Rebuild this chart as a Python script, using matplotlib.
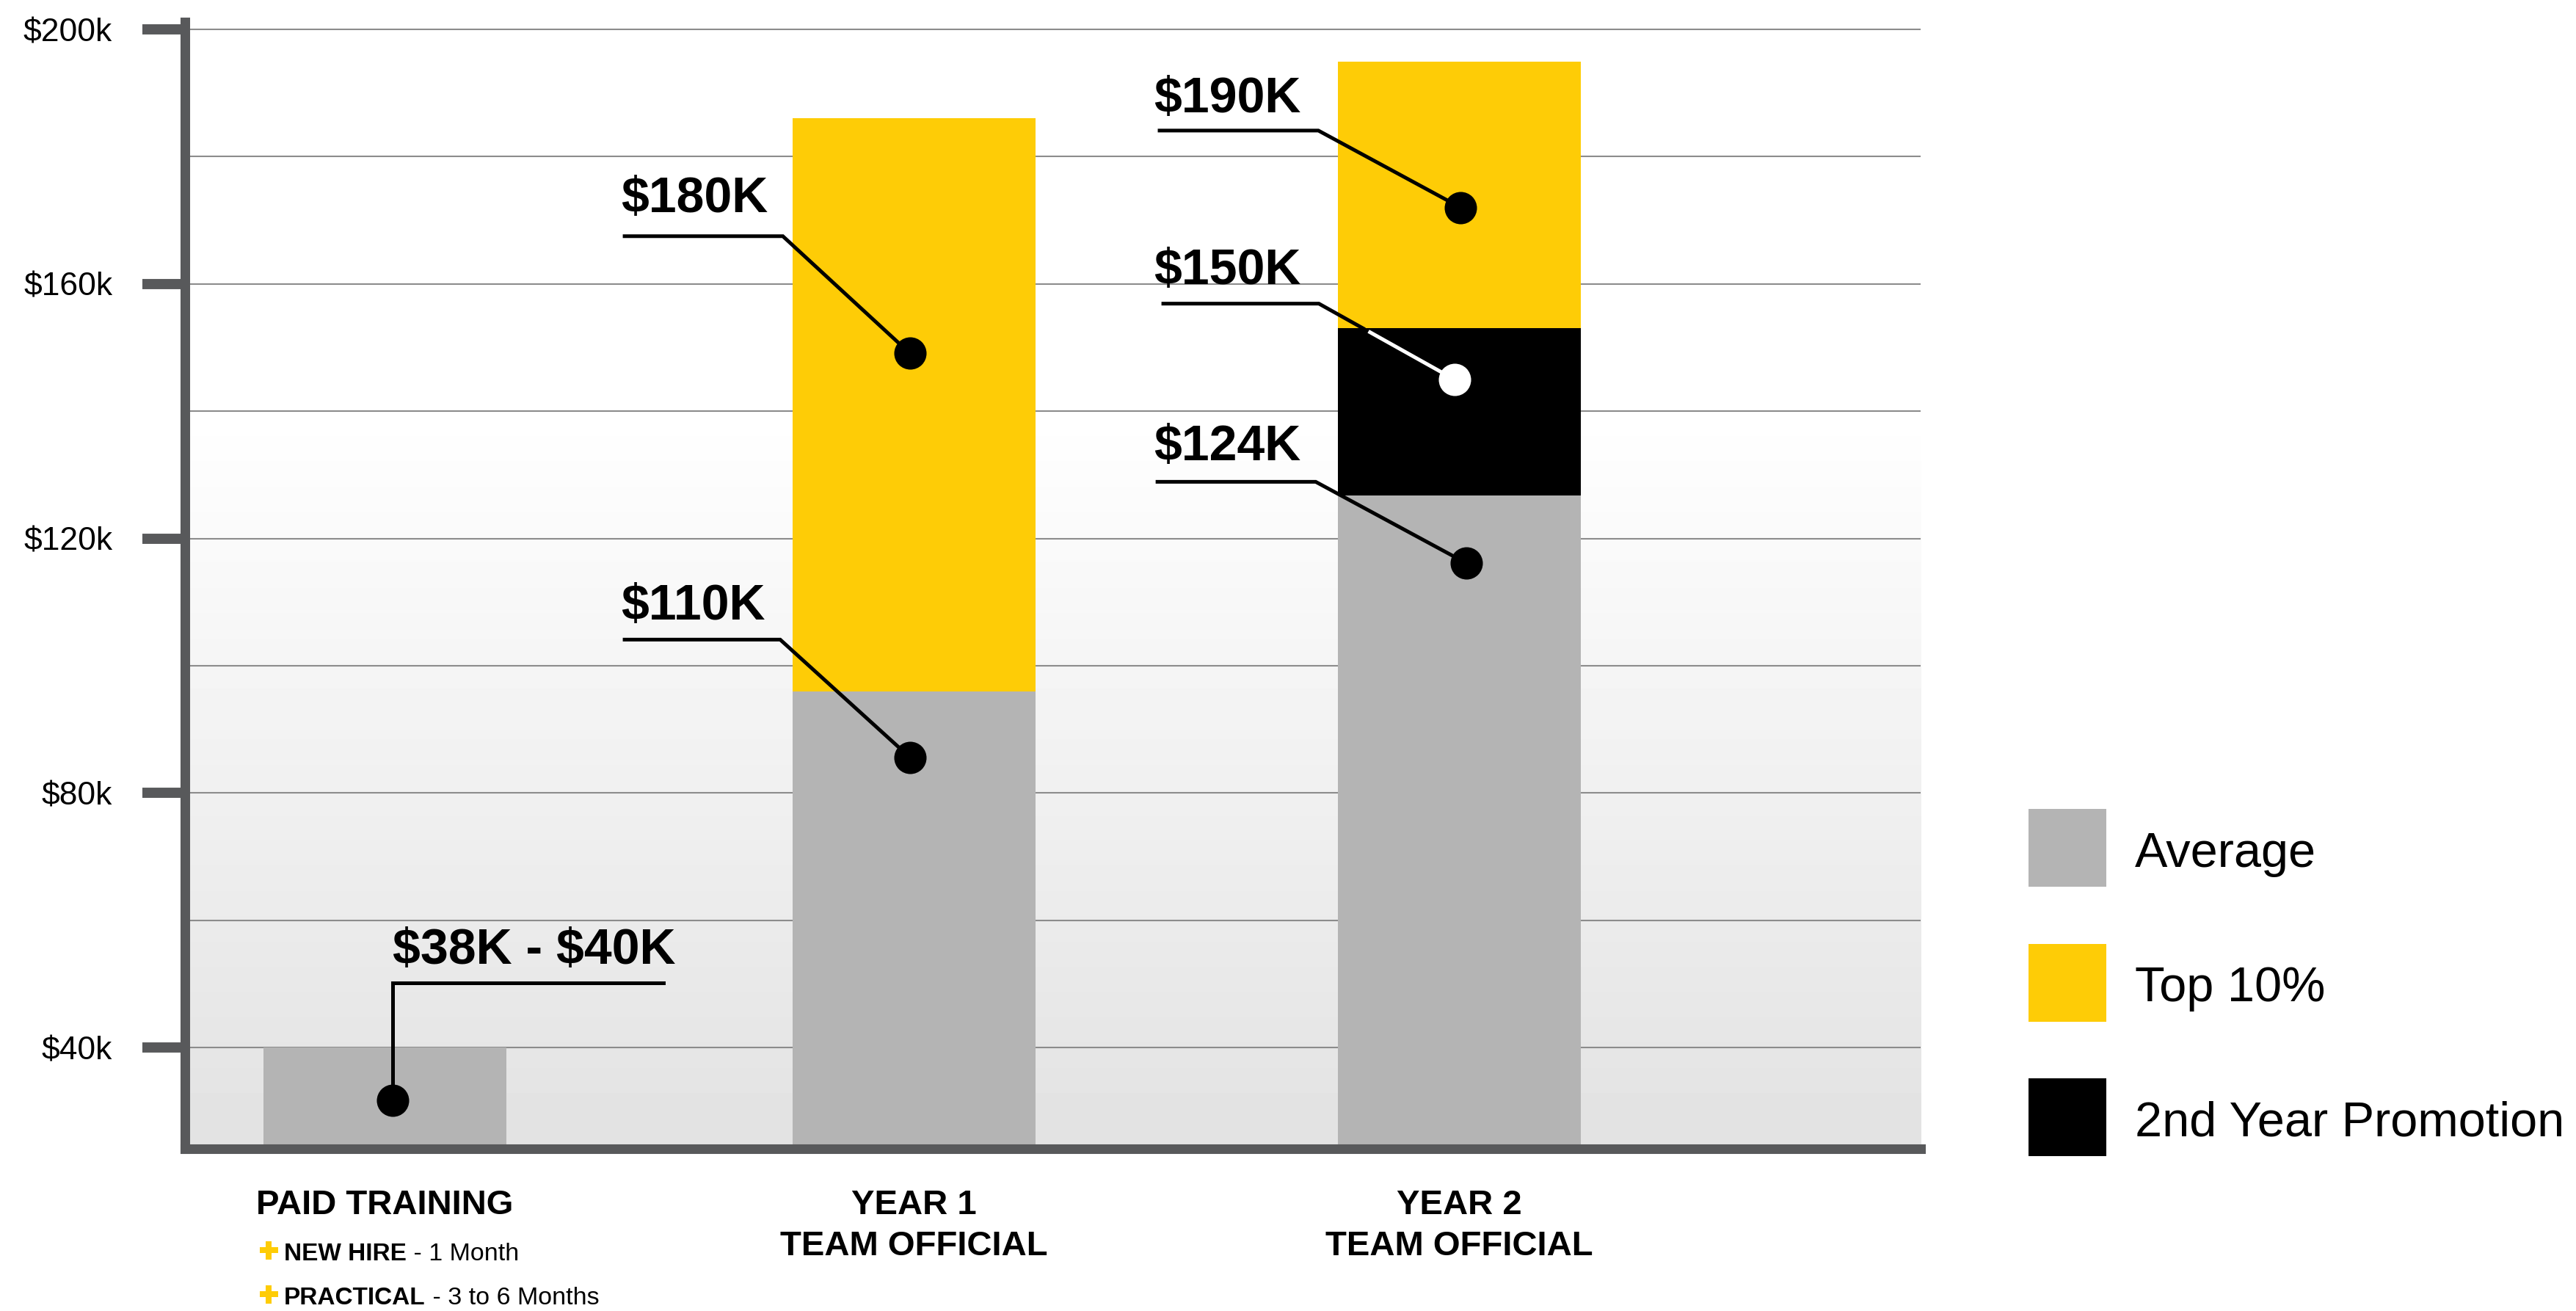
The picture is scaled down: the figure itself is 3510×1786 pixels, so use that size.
import numpy as np
import matplotlib
matplotlib.use('Agg')
import matplotlib.pyplot as plt
from matplotlib import font_manager
from matplotlib.lines import Line2D
from matplotlib.patches import Rectangle
from matplotlib.transforms import blended_transform_factory

# bar data (in $k)
categories = ['PAID TRAINING', 'YEAR 1\nTEAM OFFICIAL', 'YEAR 2\nTEAM OFFICIAL']
x_pos = [0, 1, 2.03]
average = [40, 96, 126.8]
promotion = [0, 0, 26.2]
top10 = [0, 90, 41.9]

y_ticks = [40, 80, 120, 160, 200]
y_tick_labels = ['\\$40k', '\\$80k', '\\$120k', '\\$160k', '\\$200k']
grid_values = [40, 60, 80, 100, 120, 140, 160, 180, 200]

# callouts
callout_labels = ['$38K - $40K', '$110K', '$180K', '$124K', '$150K', '$190K']
dot_x = [0.014, 0.992, 0.992, 2.044, 2.021, 2.033]
dot_y = [31.7, 85.6, 149.1, 116.1, 145.0, 172.0]
knee_x = [0.014, 0.747, 0.752, 1.759, 1.765, 1.764]
knee_y = [50.2, 104.1, 167.5, 128.9, 156.9, 184.1]
end_x = [0.526, 0.453, 0.453, 1.460, 1.471, 1.464]
label_x = [0.015, 0.446, 0.446, 1.453, 1.453, 1.453]
label_y = [53.2, 107.3, 171.3, 132.3, 160.0, 187.0]
dot_colors = ['black', 'black', 'black', 'black', 'white', 'black']

legend_labels = ['Average', 'Top 10%', '2nd Year Promotion']
sub_bold = ['NEW HIRE', 'PRACTICAL']
sub_regular = [' - 1 Month', ' - 3 to 6 Months']

grey = '#b4b4b4'
yellow = '#fecc06'
axis_col = '#58595b'

plt.rcParams['font.family'] = ['Liberation Sans', 'DejaVu Sans']
names = {f.name for f in font_manager.fontManager.ttflist}
callout_font = 'Liberation Sans Narrow' if 'Liberation Sans Narrow' in names else 'Liberation Sans'
callout_size = 56 if callout_font == 'Liberation Sans Narrow' else 49

W, H = 3510, 1786
fig = plt.figure(figsize=(W / 100, H / 100), dpi=100)
ax = fig.add_axes([251.5 / W, (H - 1564.5) / H, (2617 - 251.5) / W, (1564.5 - 30.5) / H])
xlim = (-0.3786, 2.9022)
ylim = (24.14, 201.1)

# background gradient, white at top fading to light grey at the bottom
vals = np.linspace(ylim[0], ylim[1], 400)
shade = np.clip(226 + 29 * (vals - ylim[0]) / (140 - ylim[0]), 0, 255)
ax.imshow(shade[:, None], extent=[xlim[0], xlim[1], ylim[0], ylim[1]], origin='lower',
          aspect='auto', cmap='gray', vmin=0, vmax=255, zorder=0, interpolation='bilinear')

width = 0.459
bottom_top = [a + p for a, p in zip(average, promotion)]
ax.bar(x_pos, average, width, color=grey, zorder=2, linewidth=0)
ax.bar(x_pos, promotion, width, bottom=average, color='black', zorder=2, linewidth=0)
ax.bar(x_pos, top10, width, bottom=bottom_top, color=yellow, zorder=2, linewidth=0)

ax.set_xlim(*xlim)
ax.set_ylim(*ylim)

# axes styling
for s in ['top', 'right']:
    ax.spines[s].set_visible(False)
for s in ['left', 'bottom']:
    ax.spines[s].set_linewidth(9.4)
    ax.spines[s].set_color(axis_col)
    ax.spines[s].set_zorder(6)
ax.set_yticks(y_ticks)
ax.set_yticklabels(y_tick_labels)
ax.set_yticks(grid_values, minor=True)
ax.tick_params(axis='y', which='major', length=42, width=10, color=axis_col,
               pad=28.8, labelsize=32)
ax.tick_params(axis='y', which='minor', length=0)
ax.tick_params(axis='x', bottom=False, labelbottom=False)
ax.set_axisbelow(True)
ax.grid(axis='y', which='both', color='#8c8c8c', linewidth=1.5, zorder=1)

# callout lines, dots and labels
for i, lab in enumerate(callout_labels):
    if dot_colors[i] == 'white':
        bar_top = bottom_top[2]
        t = (knee_y[i] - bar_top) / (knee_y[i] - dot_y[i])
        cx = knee_x[i] + t * (dot_x[i] - knee_x[i])
        t2 = t + 0.05
        wx = knee_x[i] + t2 * (dot_x[i] - knee_x[i])
        wy = knee_y[i] + t2 * (dot_y[i] - knee_y[i])
        ax.plot([end_x[i], knee_x[i], cx], [knee_y[i], knee_y[i], bar_top],
                color='black', lw=3.6, zorder=3, solid_joinstyle='miter')
        ax.plot([wx, dot_x[i]], [wy, dot_y[i]], color='white', lw=3.6, zorder=3)
    else:
        ax.plot([end_x[i], knee_x[i], dot_x[i]], [knee_y[i], knee_y[i], dot_y[i]],
                color='black', lw=3.6, zorder=3, solid_joinstyle='miter')
    ax.plot(dot_x[i], dot_y[i], 'o', ms=31.7, color=dot_colors[i], mew=0, zorder=4)
    ax.text(label_x[i], label_y[i], lab.replace('$', '\\$'), fontsize=callout_size,
            fontweight='bold', family=[callout_font, 'DejaVu Sans'],
            ha='left', va='baseline', zorder=5)

# category labels under the axis
trans = blended_transform_factory(ax.transData, fig.transFigure)
for x, cat in zip(x_pos, categories):
    for j, line in enumerate(cat.split('\n')):
        ax.text(x, (H - 1654 - 56 * j) / H, line, transform=trans, ha='center',
                va='baseline', fontsize=34, fontweight='bold')

# sub items under paid training
for j in range(2):
    yb = (H - 1717 - 60 * j) / H
    fig.add_artist(Line2D([366 / W], [(H - 1703 - 60 * j) / H], marker='P', ms=18,
                          color=yellow, mew=0, transform=fig.transFigure))
    t = fig.text(387 / W, yb, sub_bold[j], fontsize=24, fontweight='bold', va='baseline')
    ax.annotate(sub_regular[j], xy=(1, 0), xycoords=t, fontsize=24.5, va='bottom',
                ha='left', annotation_clip=False)

# legend
colors = [grey, yellow, 'black']
for k, lab in enumerate(legend_labels):
    top = 1102 + 183.5 * k
    fig.add_artist(Rectangle((2764 / W, (H - top - 106) / H), 106 / W, 106 / H,
                             color=colors[k], transform=fig.transFigure, lw=0))
    fig.text(2909 / W, (H - top - 79) / H, lab, fontsize=48, va='baseline')

fig.savefig('out.png', dpi=100)
